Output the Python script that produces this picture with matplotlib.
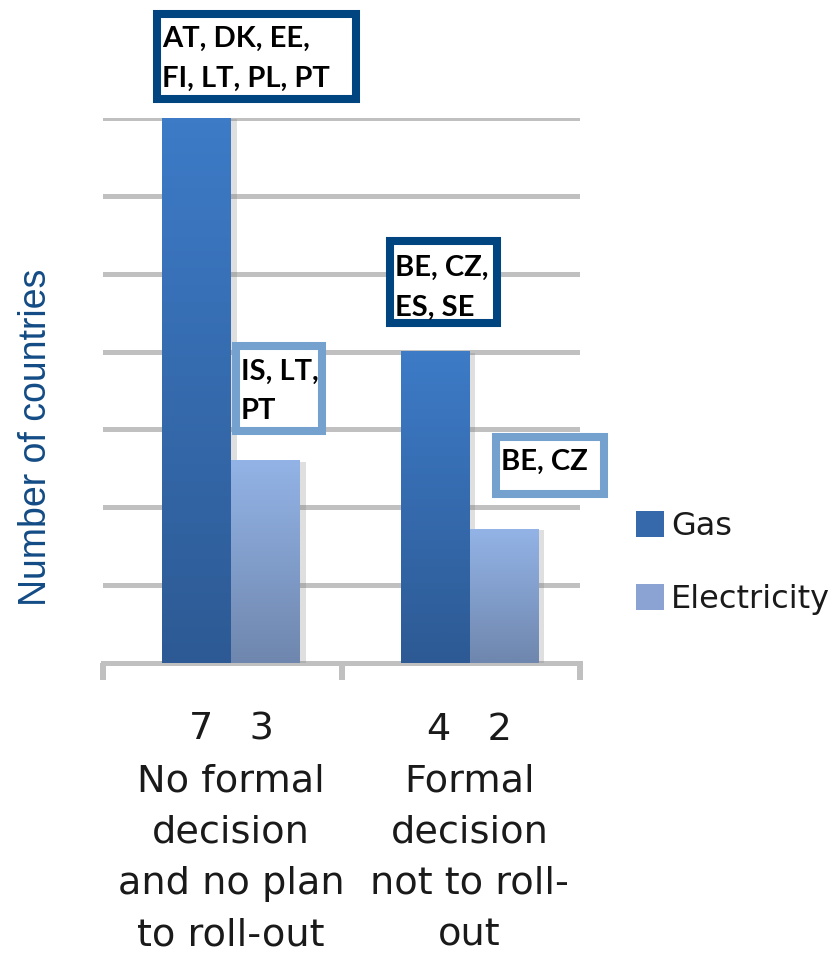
import numpy as np
import matplotlib
matplotlib.use('Agg')
import matplotlib.pyplot as plt
from matplotlib.colors import LinearSegmentedColormap
from matplotlib.patches import Rectangle, Patch
import matplotlib.patheffects as pe

# data
categories = ['No formal\ndecision\nand no plan\nto roll-out',
              'Formal\ndecision\nnot to roll-\nout']
gas_counts = [7, 4]
elec_counts = [3, 2]
gas_heights = [7, 4]          # bar heights as drawn
elec_heights = [2.6, 1.72]    # bar heights as drawn (shorter than their counts)
gas_notes = ['AT, DK, EE,\nFI, LT, PL, PT', 'BE, CZ,\nES, SE']
elec_notes = ['IS, LT,\nPT', 'BE, CZ']

GAS_TOP, GAS_BOT = '#3d7bc7', '#2d5a94'
EL_TOP, EL_BOT = '#93b3e6', '#6f87ae'
DARK_BOX, LIGHT_BOX = '#00457f', '#74a1cd'
GRID = '#c0c0c0'

fig = plt.figure(figsize=(8.35, 9.64), dpi=100)
ax = fig.add_axes([103/835, 1-663/964, 477/835, 545/964])

x = np.arange(len(categories))
w = 0.289
shift = 0.037
shadow = [pe.SimplePatchShadow(offset=(4, -1), shadow_rgbFace='#808080', alpha=0.25), pe.Normal()]
gas_bars = ax.bar(x + shift - w/2, gas_heights, w, color=GAS_TOP, zorder=3, path_effects=shadow)
el_bars = ax.bar(x + shift + w/2, elec_heights, w, color=EL_TOP, zorder=3, path_effects=shadow)

# vertical gradient on each bar
grad = np.linspace(0, 1, 100).reshape(-1, 1)
for bars, top, bot in [(gas_bars, GAS_TOP, GAS_BOT), (el_bars, EL_TOP, EL_BOT)]:
    cmap = LinearSegmentedColormap.from_list('g', [bot, top])
    for b in bars:
        x0, h = b.get_x(), b.get_height()
        ax.imshow(grad, extent=[x0, x0 + b.get_width(), 0, h], origin='lower',
                  cmap=cmap, aspect='auto', zorder=4, interpolation='bilinear')

ax.set_xlim(-0.5, 1.5)
ax.set_ylim(0, 7)
ax.set_yticks(range(0, 8))
ax.yaxis.grid(True, color=GRID, linewidth=3.6, zorder=0)
ax.set_axisbelow(True)
ax.tick_params(axis='y', length=0, labelleft=False)
for s in ['top', 'right', 'left']:
    ax.spines[s].set_visible(False)
ax.spines['bottom'].set_color(GRID)
ax.spines['bottom'].set_linewidth(3.6)

labels = [f'{g}   {e}\n{c}' for g, e, c in zip(gas_counts, elec_counts, categories)]
ax.set_xticks(x + shift)
ax.set_xticklabels(labels, fontsize=27.5, family='DejaVu Sans', color='#1a1a1a',
                   linespacing=1.55)
ax.tick_params(axis='x', which='major', length=0, pad=35)
ax.set_xticks([-0.5, 0.5, 1.5], minor=True)
ax.tick_params(axis='x', which='minor', length=12, width=4.3, color=GRID)

ax.set_ylabel('Number of countries', fontsize=27, family='Liberation Sans', color='#134c85')
ax.yaxis.label.set_va('center')
ax.yaxis.set_label_coords(-0.141, 0.415)

# annotation boxes (outer edges in data units) and text anchor
boxes = [
    (gas_notes[0], DARK_BOX, (-0.290, 0.578, 7.19, 8.387), (-0.252, 7.757)),
    (elec_notes[0], LIGHT_BOX, (0.041, 0.435, 2.928, 4.123), (0.079, 3.487)),
    (gas_notes[1], DARK_BOX, (0.687, 1.169, 4.316, 5.471), (0.724, 4.816)),
    (elec_notes[1], LIGHT_BOX, (1.131, 1.618, 2.119, 2.954), (1.169, 2.582)),
]
dx, dy = 4/238.5, 4/77.86
for txt, col, (xa, xb, ya, yb), (tx, ty) in boxes:
    ax.add_patch(Rectangle((xa + dx, ya + dy), xb - xa - 2*dx, yb - ya - 2*dy,
                           facecolor='white', edgecolor=col, linewidth=5.8,
                           joinstyle='miter', zorder=6, clip_on=False))
    ax.text(tx, ty, txt, ha='left', va='center', fontsize=21,
            family='Lato', weight='bold', color='black',
            linespacing=1.65, zorder=7, clip_on=False)

leg = fig.legend(handles=[Patch(facecolor='#3569ab', label='Gas'),
                          Patch(facecolor='#8aa3d2', label='Electricity')],
                 loc='upper left', bbox_to_anchor=(636/835, 1-511/964),
                 frameon=False, prop={'family': 'DejaVu Sans', 'size': 23},
                 handlelength=0.87, handleheight=0.87, handletextpad=0.22,
                 labelspacing=1.32, borderpad=0, borderaxespad=0)
for t in leg.get_texts():
    t.set_color('#1a1a1a')

fig.savefig('out.png', dpi=100)
